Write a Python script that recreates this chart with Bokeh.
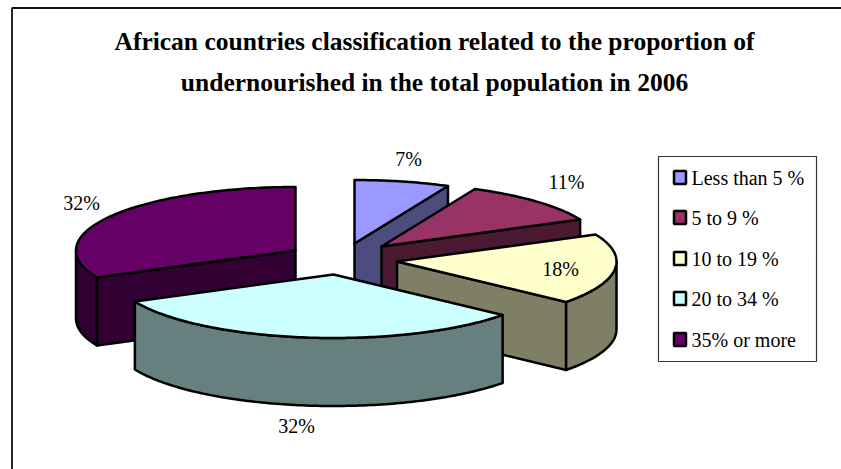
import math
from bokeh.core.properties import value
from bokeh.embed import file_html
from bokeh.models import Range1d
from bokeh.plotting import figure
from bokeh.resources import INLINE

# Share of African countries in each undernourishment class, 2006
categories = ["Less than 5 %", "5 to 9 %", "10 to 19 %", "20 to 34 %", "35% or more"]
shares = [7, 11, 18, 32, 32]
share_labels = ["7%", "11%", "18%", "32%", "32%"]
top_colors = ["#9999FF", "#993366", "#FFFFCC", "#CCFFFF", "#660066"]
side_colors = ["#4C4C7F", "#4C1933", "#7F7F66", "#667F7F", "#330033"]
title_lines = [
    "African countries classification related to the proportion of",
    "undernourished in the total population in 2006",
]

# Exploded pie layout, in page pixels
RX, RY, DEPTH = 219.5, 63.5, 68
apexes = [(354, 243), (381, 246), (396.5, 261), (333, 274), (295, 250)]
label_pos = [(408, 158), (566, 181), (560, 268), (296, 425), (81, 202)]
legend_rows = [177, 217, 258, 298, 339]
FONT = "Liberation Serif"

p = figure(width=841, height=469, output_backend="svg", toolbar_location=None,
           x_range=Range1d(0, 841), y_range=Range1d(469, 0),
           min_border=0, outline_line_color=None)
p.axis.visible = False
p.grid.visible = False

# Chart frame: only the left and top edges fall on the page
p.line([11.5, 11.5, 841], [469, 7.5, 7.5], line_color="#111111", line_width=1.8)


def rim(cx, cy, a0, a1, dy=0.0):
    """Points along the ellipse from a0 to a1, degrees clockwise from 12 o'clock."""
    n = max(2, int(abs(a1 - a0)) + 1)
    pts = []
    for i in range(n + 1):
        a = math.radians(a0 + (a1 - a0) * i / n)
        pts.append((cx + RX * math.sin(a), cy - RY * math.cos(a) + dy))
    return pts


def poly(pts, fill):
    xs, ys = zip(*pts)
    p.patch(list(xs), list(ys), fill_color=fill, line_color="#000000",
            line_width=2.5, line_join="round")


def cut_face(cx, cy, a, fill):
    e = rim(cx, cy, a, a)[0]
    poly([(cx, cy), e, (e[0], e[1] + DEPTH), (cx, cy + DEPTH)], fill)


# Cumulative slice angles from the shares
angles = []
start = 0.0
total = sum(shares)
for s in shares:
    angles.append((start, start + 360.0 * s / total))
    start += 360.0 * s / total

# Back-to-front: the large front slice covers its neighbours
for i in [4, 0, 1, 2, 3]:
    cx, cy = apexes[i]
    a0, a1 = angles[i]
    # A cut face shows only when it turns towards the viewer
    if 0 < a1 < 180:
        cut_face(cx, cy, a1, side_colors[i])
    if 180 < a0 < 360:
        cut_face(cx, cy, a0, side_colors[i])
    # Outer wall on the near half of the ellipse
    lo, hi = max(a0, 90), min(a1, 270)
    if lo < hi:
        poly(rim(cx, cy, lo, hi) + rim(cx, cy, hi, lo, DEPTH), side_colors[i])
    poly([(cx, cy)] + rim(cx, cy, a0, a1), top_colors[i])

for (x, y), t in zip(label_pos, share_labels):
    p.text([x], [y], text=[t], text_font=value(FONT), text_font_size="20px",
           text_color="#000000", text_align="center", text_baseline="middle")

# Title
for y, t in zip([41, 82], title_lines):
    p.text([434], [y], text=[t], text_font=value(FONT), text_font_size="25.5px",
           text_font_style="bold", text_color="#000000",
           text_align="center", text_baseline="middle")

# Legend
p.quad(left=[658], right=[816], top=[156], bottom=[361], fill_color="#FFFFFF",
       line_color="#333333", line_width=1.2)
for y, c, t in zip(legend_rows, top_colors, categories):
    p.quad(left=[673.5], right=[685.5], top=[y - 6.5], bottom=[y + 6.5], fill_color=c,
           line_color="#000000", line_width=2.5)
    p.text([691], [y], text=[t], text_font=value(FONT), text_font_size="20px",
           text_color="#000000", text_align="left", text_baseline="middle")

open("out.html", "w").write(file_html(p, INLINE))
